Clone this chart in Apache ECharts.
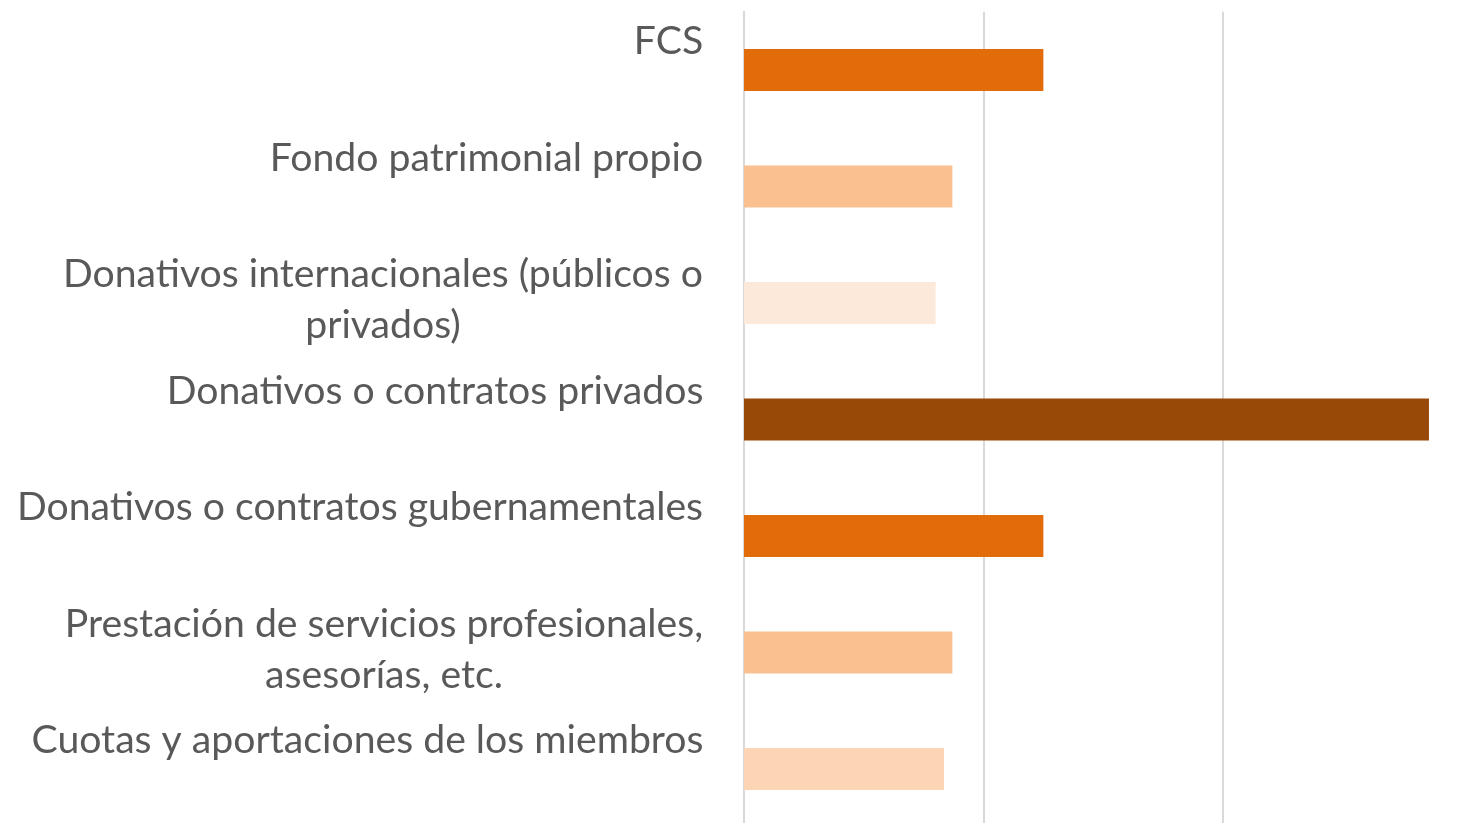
<!DOCTYPE html>
<html>
<head>
<meta charset="utf-8">
<script src="https://cdn.jsdelivr.net/npm/echarts@6/dist/echarts.min.js"></script>
<style>
html,body{margin:0;padding:0;background:#fff;}
#chart{width:1458px;height:823px;}
</style>
</head>
<body>
<div id="chart"></div>
<script>
var categories = [
  "FCS",
  "Fondo patrimonial propio",
  "Donativos internacionales (públicos o\nprivados)",
  "Donativos o contratos privados",
  "Donativos o contratos gubernamentales",
  "Prestación de servicios profesionales,\nasesorías, etc.",
  "Cuotas y aportaciones de los miembros"
];
var values = [12.5, 8.7, 8.0, 28.6, 12.5, 8.7, 8.35];
var barColors = ["#E36C0A", "#FAC090", "#FDE9D9", "#984807", "#E36C0A", "#FAC090", "#FCD5B5"];

var FONT = "Lato";
var canvas = document.createElement('canvas');
var ctx = canvas.getContext('2d');
ctx.font = '100px ' + FONT;
var refW = ctx.measureText("Donativos o contratos gubernamentales").width;
var fontSize = Math.round(100 * 687 / refW * 10) / 10;
ctx.font = fontSize + 'px ' + FONT;
var LH = 51;

var rich = {};
var labelMap = {};
categories.forEach(function (c, i) {
  var lines = c.split('\n');
  var w = 0;
  lines.forEach(function (l) { w = Math.max(w, ctx.measureText(l).width); });
  var key = 'c' + i;
  rich[key] = { width: Math.ceil(w) + 1, align: 'center', fontFamily: FONT, fontSize: fontSize, lineHeight: LH, color: '#595959' };
  if (lines.length === 1) lines.push(' ');
  labelMap[c] = lines.map(function (l) { return '{' + key + '|' + l + '}'; }).join('\n');
});

var chart = echarts.init(document.getElementById('chart'), null, { renderer: 'canvas' });
chart.setOption({
  animation: false,
  backgroundColor: '#ffffff',
  grid: { left: 744, top: 11.75, width: 718.5, height: 815.5, containLabel: false, outerBoundsMode: 'none' },
  xAxis: {
    type: 'value', min: 0, max: 30, interval: 10,
    axisLine: { show: false }, axisTick: { show: false }, axisLabel: { show: false },
    splitLine: { show: true, lineStyle: { color: '#D9D9D9', width: 2 } }
  },
  yAxis: {
    type: 'category', data: categories, inverse: true,
    axisLine: { show: true, lineStyle: { color: '#D9D9D9', width: 2 } },
    axisTick: { show: false },
    axisLabel: {
      interval: 0, margin: 40, align: 'right', verticalAlign: 'middle',
      padding: [0, 0, 6, 0],
      fontFamily: FONT, fontSize: fontSize, lineHeight: LH, color: '#595959',
      formatter: function (v) { return labelMap[v]; },
      rich: rich
    }
  },
  series: [{
    type: 'bar', barWidth: 42,
    data: values.map(function (v, i) { return { value: v, itemStyle: { color: barColors[i] } }; })
  }]
});
</script>
</body>
</html>
